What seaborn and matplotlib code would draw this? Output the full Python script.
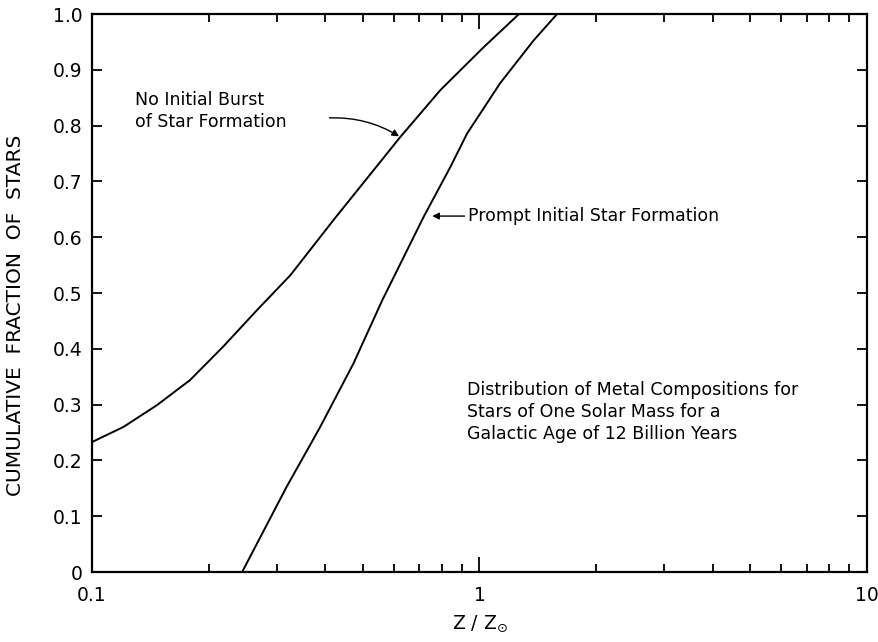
import numpy as np
import pandas as pd
import matplotlib
matplotlib.use("Agg")
import matplotlib.pyplot as plt
from matplotlib.ticker import LogLocator, NullFormatter
import seaborn as sns

# curve values (Z/Zsun, cumulative fraction)
burst_z = [0.1, 0.1205, 0.147, 0.179, 0.218, 0.267, 0.325, 0.42, 0.625, 0.793, 1.026, 1.264]
burst_frac = [0.233, 0.260, 0.299, 0.344, 0.404, 0.470, 0.532, 0.631, 0.780, 0.864, 0.941, 1.0]

prompt_z = [0.244, 0.318, 0.388, 0.473, 0.561, 0.718, 0.841, 0.929, 1.13, 1.38, 1.585]
prompt_frac = [0.0, 0.153, 0.260, 0.374, 0.487, 0.637, 0.726, 0.786, 0.876, 0.953, 1.0]

y_ticks = [0.0, 0.1, 0.2, 0.3, 0.4, 0.5, 0.6, 0.7, 0.8, 0.9, 1.0]
y_labels = ["0", "0.1", "0.2", "0.3", "0.4", "0.5", "0.6", "0.7", "0.8", "0.9", "1.0"]
x_ticks = [0.1, 1, 10]
x_labels = ["0.1", "1", "10"]

sns.set_theme(style="ticks")
plt.rcParams["font.family"] = ["DejaVu Sans"]
plt.rcParams["text.color"] = "black"
plt.rcParams["axes.labelcolor"] = "black"

df_burst = pd.DataFrame({"z": burst_z, "frac": burst_frac})
df_prompt = pd.DataFrame({"z": prompt_z, "frac": prompt_frac})

fig = plt.figure(figsize=(8.79, 6.42), dpi=100)
ax = fig.add_axes([0.1047, 0.109, 0.8816, 0.869])

sns.lineplot(data=df_burst, x="z", y="frac", ax=ax, color="black", lw=1.4,
             estimator=None, sort=False)
sns.lineplot(data=df_prompt, x="z", y="frac", ax=ax, color="black", lw=1.4,
             estimator=None, sort=False)

ax.set_xscale("log")
ax.set_xlim(0.1, 10)
ax.set_ylim(0, 1.0)

ax.set_xticks(x_ticks)
ax.set_xticklabels(x_labels)
ax.xaxis.set_minor_locator(LogLocator(base=10, subs=np.arange(2, 10)))
ax.xaxis.set_minor_formatter(NullFormatter())
ax.set_yticks(y_ticks)
ax.set_yticklabels(y_labels)

for s in ax.spines.values():
    s.set_visible(True)
    s.set_linewidth(1.6)
    s.set_color("black")

ax.tick_params(axis="both", which="both", direction="in", top=True, right=True,
               colors="black", labelsize=13.5)
ax.tick_params(axis="x", which="major", length=11, width=1.3, pad=10)
ax.tick_params(axis="x", which="minor", length=6, width=1.3)
ax.tick_params(axis="y", which="major", length=7, width=1.3, pad=7)

ax.set_xlabel(r"Z / Z$_{\odot}$", fontsize=13.5, labelpad=6)
ax.set_ylabel("CUMULATIVE  FRACTION  OF  STARS", fontsize=14.5)
ax.yaxis.set_label_coords(-0.086, 0.46)

# annotations
ax.text(0.129, 0.862, "No Initial Burst\nof Star Formation", fontsize=12.5,
        ha="left", va="top", linespacing=1.25)
ax.annotate("", xy=(0.62, 0.781), xytext=(0.41, 0.814),
            arrowprops=dict(arrowstyle="-|>", color="black", lw=1.0,
                            mutation_scale=10, connectionstyle="arc3,rad=-0.15",
                            shrinkA=0, shrinkB=0))

ax.text(0.935, 0.638, "Prompt Initial Star Formation", fontsize=12.5,
        ha="left", va="center")
ax.annotate("", xy=(0.755, 0.638), xytext=(0.915, 0.638),
            arrowprops=dict(arrowstyle="-|>", color="black", lw=1.0,
                            mutation_scale=10, shrinkA=0, shrinkB=0))

ax.text(0.926, 0.343,
        "Distribution of Metal Compositions for\n"
        "Stars of One Solar Mass for a\n"
        "Galactic Age of 12 Billion Years",
        fontsize=12.5, ha="left", va="top", linespacing=1.3)

fig.savefig("out.png", dpi=100)
